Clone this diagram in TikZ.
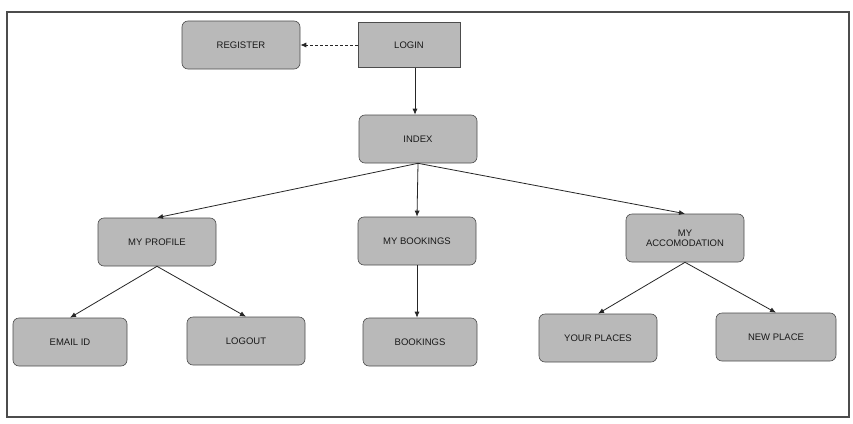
\documentclass[tikz,border=0pt]{standalone}
\usepackage{fontspec}
\setmainfont{Liberation Sans}
\usetikzlibrary{arrows.meta}
\begin{document}
\begin{tikzpicture}[x=1pt,y=-1pt,
  box/.style={draw=gray!60!black, line width=0.6pt, fill=gray!55, rounded corners=6pt,
    minimum width=118pt, minimum height=48pt, align=center, font=\fontsize{9.5}{10}\selectfont, text=black!90},
  sqbox/.style={box, rounded corners=0pt, minimum width=102pt, minimum height=45pt},
  conn/.style={draw=black!85, line width=0.8pt, -{Latex[length=6pt,width=5pt]}}]
\useasboundingbox (0,0) rectangle (853,423);
\fill[white] (0,0) rectangle (853,423);
\draw[gray!60!black, line width=1.6pt] (7,12) rectangle (849,417);
\node[box] (reg) at (241,45) {REGISTER};
\node[sqbox] (login) at (409,45) {LOGIN};
\node[box] (index) at (418,139) {INDEX};
\node[box] (prof) at (157,242) {MY PROFILE};
\node[box] (book) at (417,241) {MY BOOKINGS};
\node[box] (acc) at (685,238) {MY\\ACCOMODATION};
\node[box, minimum width=114pt] (email) at (70,342) {EMAIL ID};
\node[box] (logout) at (246,341) {LOGOUT};
\node[box, minimum width=114pt] (bks) at (420,342) {BOOKINGS};
\node[box] (yp) at (598,338) {YOUR PLACES};
\node[box, minimum width=120pt] (np) at (776,337) {NEW PLACE};
\draw[conn, densely dashed] (login) -- (reg);
\draw[conn] (login.south -| 415,0) -- (index.north -| 415,0);
\draw[conn] (index.south) -- (prof.north);
\draw[conn] (index.south) -- (book.north);
\draw[conn] (index.south) -- (acc.north);
\draw[conn] (prof.south) -- (email.north);
\draw[conn] (prof.south) -- (logout.north);
\draw[conn] (book.south) -- (bks.north -| book.south);
\draw[conn] (acc.south) -- (yp.north);
\draw[conn] (acc.south) -- (np.north);
\end{tikzpicture}
\end{document}
